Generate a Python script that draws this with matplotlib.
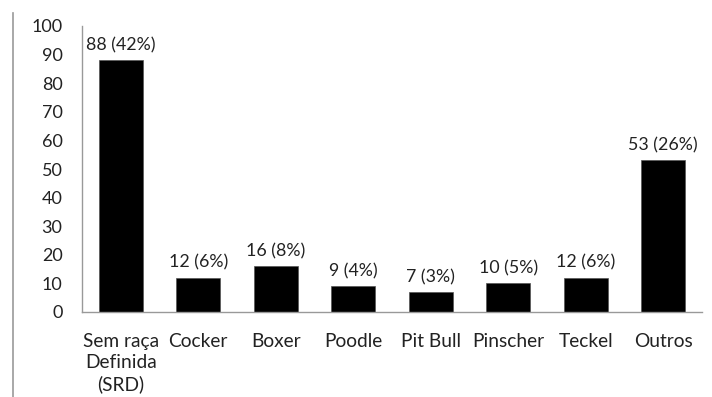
import matplotlib
matplotlib.use("Agg")

import matplotlib.pyplot as plt
import numpy as np
from matplotlib.lines import Line2D

# Breeds and counts
breeds = ["Sem raça\nDefinida\n(SRD)", "Cocker", "Boxer", "Poodle",
          "Pit Bull", "Pinscher", "Teckel", "Outros"]
counts = [88, 12, 16, 9, 7, 10, 12, 53]
percents = [42, 6, 8, 4, 3, 5, 6, 26]
yticks = list(range(0, 101, 10))

plt.rcParams["font.family"] = ["Lato", "DejaVu Sans"]
TEXT = "#222222"

fig = plt.figure(figsize=(7.12, 3.97), dpi=100)
ax = fig.add_axes([82 / 712, 1 - 312 / 397, 620 / 712, 286 / 397])

x = np.arange(len(breeds))
ax.bar(x, counts, width=0.57, color="black", edgecolor="#555555", linewidth=0.5)

for xi, c, p in zip(x, counts, percents):
    ax.annotate(f"{c} ({p}%)", (xi, c), xytext=(0, 5), textcoords="offset points",
                ha="center", va="bottom", fontsize=12.8, color=TEXT)

ax.set_xlim(-0.5, len(breeds) - 0.5)
ax.set_ylim(0, 100)
ax.set_yticks(yticks)
ax.set_xticks(x)
ax.set_xticklabels(breeds, fontsize=13.8, color=TEXT, linespacing=1.3)
ax.tick_params(axis="y", labelsize=13, labelcolor=TEXT, length=0, pad=14)
ax.tick_params(axis="x", length=0, pad=15)

for side in ("top", "right"):
    ax.spines[side].set_visible(False)
for side in ("left", "bottom"):
    ax.spines[side].set_color("#999999")
    ax.spines[side].set_linewidth(1.0)

# thin border line on the far left
fig.add_artist(Line2D([13 / 712, 13 / 712], [0, 1 - 13 / 397],
                      transform=fig.transFigure, color="#999999", linewidth=1.2))

fig.savefig("out.png", dpi=100)
plt.close(fig)
